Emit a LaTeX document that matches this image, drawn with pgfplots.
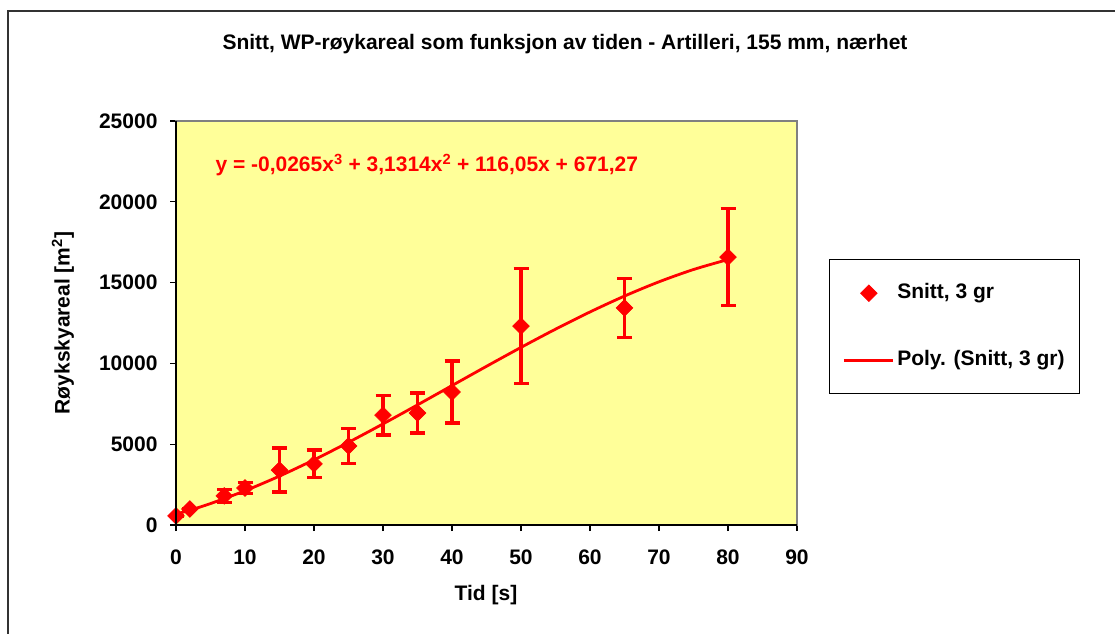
\documentclass[border=0pt]{standalone}
\usepackage{pgfplots}
\pgfplotsset{compat=1.18}
\usepackage{fontspec}
\setmainfont{Liberation Sans}
\definecolor{plotbg}{RGB}{255,255,153}
\definecolor{framegray}{RGB}{128,128,128}
\definecolor{xlred}{RGB}{255,0,0}

% mean smoke area with error (symmetric), x in s
\pgfplotstableread{
x     y      e
0     560    0
2     990    0
7     1800   400
10    2290   320
15    3400   1360
20    3780   865
25    4890   1080
30    6800   1235
35    6930   1240
40    8230   1920
50    12310  3555
65    13430  1825
80    16580  3005
}\snitt

% polynomial trendline, values typed from the equation in the chart
\pgfplotstableread{
x   y
0   671.3
2   915.7
5   1326.5
10  2118.4
15  3027.2
20  4032.8
25  5115.6
30  6255.5
35  7432.8
40  8627.5
45  9819.8
50  10989.8
55  12117.6
60  13183.3
65  14167.1
70  15049.1
75  15809.5
80  16428.2
}\poly

\newcommand{\fnt}{\fontsize{21}{24}\selectfont\bfseries}
\tikzset{snittmark/.style={mark=square*, mark size=5.9pt,
    mark options={rotate=45, solid, fill=xlred, draw=xlred, line width=0.6pt}}}

\begin{document}
\begin{tikzpicture}
\useasboundingbox (0pt,0pt) rectangle (1115pt,633pt);
\begin{scope}
\clip (0pt,0pt) rectangle (1115pt,633pt);
\draw[line width=1.3pt, black!80] (8pt,-20pt) -- (8pt,622pt) -- (1140pt,622pt);
\end{scope}

\begin{axis}[
    at={(176pt,108pt)}, anchor=south west,
    scale only axis,
    width=621pt, height=404pt,
    xmin=0, xmax=90, ymin=0, ymax=25000,
    xtick={0,10,...,90},
    ytick={0,5000,...,25000},
    scaled y ticks=false,
    /pgf/number format/1000 sep={},
    /pgf/number format/assume math mode=true,
    tick label style={font=\fnt, black},
    xtick pos=left, ytick pos=left,
    tick align=outside,
    major tick length=6pt,
    tick style={black, line width=1.2pt},
    axis background/.style={fill=plotbg},
    axis line style={framegray, line width=1.3pt},
    xticklabel style={yshift=-15pt},
    yticklabel style={xshift=-9pt},
    every error bar/.append style={line width=3.2pt, xlred},
    legend style={
        at={(1.0515,0.658)}, anchor=north west,
        draw=black, line width=1pt,
        inner xsep=13pt, inner ysep=22pt,
        row sep=44pt,
        font=\fnt,
        nodes={inner sep=2pt, text height=15pt, text depth=4pt},
        cells={anchor=west},
        /tikz/every odd column/.append style={column sep=1pt},
    },
    after end axis/.code={
        \draw[black, line width=1.3pt] (rel axis cs:0,1) -- (rel axis cs:0,0) -- (rel axis cs:1,0);
    },
]
\addplot[
    only marks, xlred, line width=3.2pt, snittmark,
    legend image code/.code={
        \path[draw=none] (0pt,0pt) (49pt,0pt);
        \path[only marks, xlred, snittmark] plot coordinates {(25pt,0pt)};},
    error bars/.cd,
        y dir=both, y explicit,
        error bar style={line width=3.2pt, xlred},
        error mark options={rotate=90, mark size=7.5pt, line width=3.2pt, xlred},
    ]
    table[x=x, y=y, y error=e] {\snitt};
\addlegendentry{Snitt, 3 gr}
\addplot[xlred, line width=2.8pt, smooth, no marks,
    legend image code/.code={\draw[xlred, line width=2.8pt] (0pt,0pt) -- (49pt,0pt);}]
    table[x=x, y=y] {\poly};
\addlegendentry{Poly. (Snitt, 3 gr)}
\end{axis}

\node[font=\fnt] at (565pt,589pt) {Snitt, WP-røykareal som funksjon av tiden - Artilleri, 155 mm, nærhet};
\node[font=\fnt, text=xlred, anchor=west] at (212pt,468pt) {y = -0,0265x\textsuperscript{3} + 3,1314x\textsuperscript{2} + 116,05x + 671,27};
\node[font=\fnt] at (486pt,38pt) {Tid [s]};
\node[font=\fnt, rotate=90] at (63pt,310pt) {Røykskyareal [m\textsuperscript{2}]};
\end{tikzpicture}
\end{document}
